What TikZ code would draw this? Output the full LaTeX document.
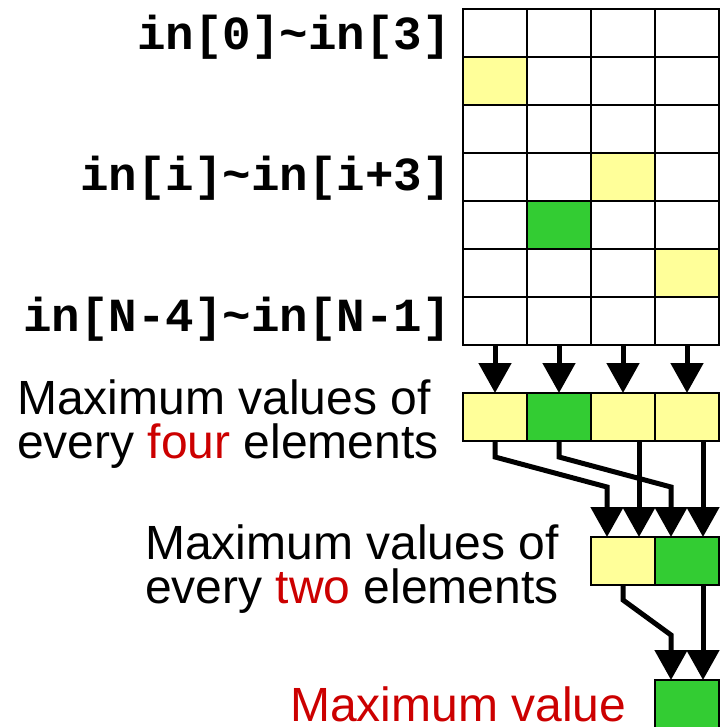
\documentclass[tikz,border=0pt]{standalone}
\usepackage{fontspec}
\setmainfont{Liberation Sans}
\newfontfamily\monofont{Liberation Mono}
\usetikzlibrary{arrows.meta,calc}
\definecolor{yel}{HTML}{FFFF99}
\definecolor{grn}{HTML}{33CC33}
\definecolor{redt}{HTML}{CC0000}
\begin{document}
\begin{tikzpicture}[x=1pt,y=-1pt,
  cell/.style={draw=black, line width=1.2pt, minimum width=64pt, minimum height=48pt,
    inner sep=0pt, outer sep=0pt, anchor=north west},
  arr/.style={line width=5pt, -{Triangle[width=32pt,length=30pt]}},
  lbl/.style={inner sep=0pt, font=\fontsize{48}{44}\selectfont},
  mono/.style={inner sep=0pt, font=\fontsize{47.5}{48}\selectfont\monofont\bfseries}]
\useasboundingbox (0,0) rectangle (719,727);
% input grid
\foreach \r in {0,...,6}{\foreach \c in {1,...,4}{
  \def\fc{white}
  \ifnum\r\c=11 \def\fc{yel}\fi
  \ifnum\r\c=33 \def\fc{yel}\fi
  \ifnum\r\c=54 \def\fc{yel}\fi
  \ifnum\r\c=42 \def\fc{grn}\fi
  \node[cell, fill=\fc] (g-\r-\c) at ({463+64*(\c-1)},{9+48*\r}) {};
}}
% maximum of four
\node[cell, fill=yel] (m4-1) at (463,393) {};
\node[cell, fill=grn] (m4-2) at (527,393) {};
\node[cell, fill=yel] (m4-3) at (591,393) {};
\node[cell, fill=yel] (m4-4) at (655,393) {};
% maximum of two
\node[cell, fill=yel] (m2-1) at (591,537) {};
\node[cell, fill=grn] (m2-2) at (655,537) {};
% final
\node[cell, fill=grn] (fin) at (655,680) {};
% arrows grid -> max4
\foreach \c in {1,...,4}{\draw[arr] (g-6-\c.south) -- (m4-\c.north);}
% max4 -> max2
\draw[arr] (m4-1.south) -- ++(0,16) -- ($(m2-1.north)+(-16,-50)$) -- ($(m2-1.north)+(-16,0)$);
\draw[arr] (m4-2.south) -- ++(0,16) -- ($(m2-2.north)+(-16,-50)$) -- ($(m2-2.north)+(-16,0)$);
\draw[arr] ($(m4-3.south)+(16,0)$) -- ($(m2-1.north)+(16,0)$);
\draw[arr] ($(m4-4.south)+(16,0)$) -- ($(m2-2.north)+(16,0)$);
% max2 -> final
\draw[arr] (m2-1.south) -- ++(0,15) -- ($(fin.north)+(-16,-45)$) -- ($(fin.north)+(-16,0)$);
\draw[arr] ($(m2-2.south)+(16,0)$) -- ($(fin.north)+(16,0)$);
% labels
\node[mono, anchor=base east] (in0) at (451,50) {in[0]\textasciitilde in[3]};
\node[mono, anchor=base east] (ini) at (451,191) {in[i]\textasciitilde in[i+3]};
\node[mono, anchor=base east] (inN) at (451,331) {in[N-4]\textasciitilde in[N-1]};
\node[lbl, anchor=base west] (l4a) at (17,414) {Maximum values of};
\node[lbl, anchor=base west] (l4b) at (17,458) {every \textcolor{redt}{four} elements};
\node[lbl, anchor=base west] (l2a) at (145,559) {Maximum values of};
\node[lbl, anchor=base west] (l2b) at (145,603) {every \textcolor{redt}{two} elements};
\node[lbl, anchor=base west, text=redt] (lfin) at (290,721) {Maximum value};
\end{tikzpicture}
\end{document}
